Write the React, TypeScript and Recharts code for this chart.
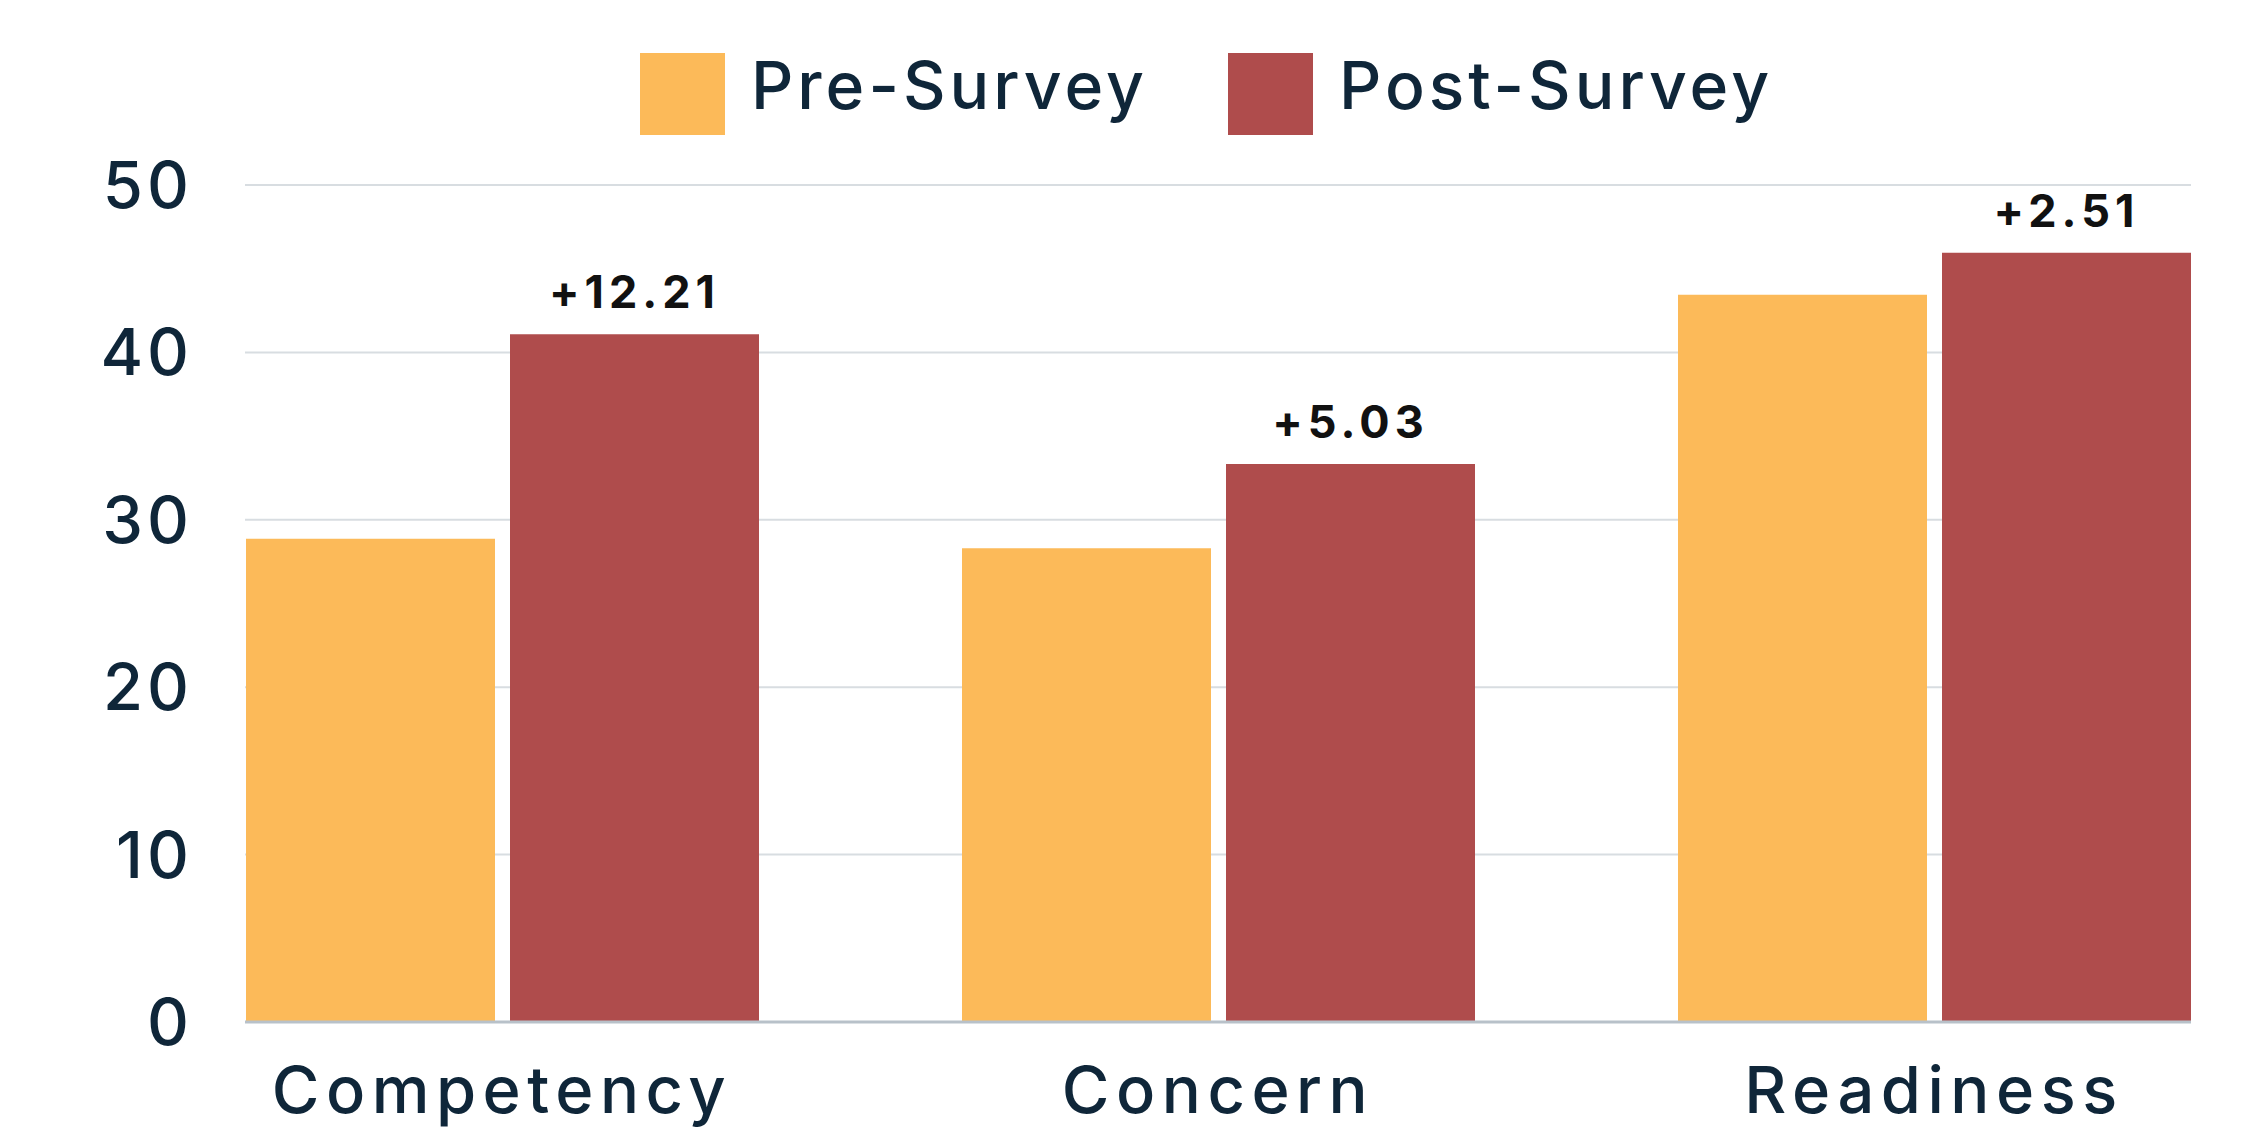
import React from 'react';
import { BarChart, Bar, XAxis, YAxis, CartesianGrid, Legend, LabelList } from 'recharts';

const categories = ['Competency', 'Concern', 'Readiness'];
const preSurvey = [28.87, 28.3, 43.45];
const postSurvey = [41.08, 33.33, 45.96];
const changeLabels = ['+12.21', '+5.03', '+2.51'];
const yTicks = [0, 10, 20, 30, 40, 50];
const seriesNames = ['Pre-Survey', 'Post-Survey'];
const seriesColors = ['#FCBA59', '#AF4C4C'];

const data = categories.map((c, i) => ({
  category: c,
  pre: preSurvey[i],
  post: postSurvey[i],
  change: changeLabels[i],
}));

const FONT = 'Inter, "Noto Sans", sans-serif';
const TEXT = '#0F2639';

const renderLegend = () => (
  <div style={{ display: 'flex', alignItems: 'center', fontFamily: FONT }}>
    {seriesNames.map((name, i) => (
      <div key={name} style={{ display: 'flex', alignItems: 'center', marginRight: i === 0 ? 80 : 0 }}>
        <div style={{ width: 85, height: 82, background: seriesColors[i], marginRight: 26 }} />
        <span
          style={{
            fontSize: 66,
            fontWeight: 500,
            color: TEXT,
            lineHeight: '82px',
            position: 'relative',
            top: -9,
            letterSpacing: 4,
            whiteSpace: 'nowrap',
          }}
        >
          {name}
        </span>
      </div>
    ))}
  </div>
);

export default function App() {
  return (
    <div style={{ position: 'absolute', left: 0, top: 0, background: '#fff' }}>
      <BarChart
        width={2245}
        height={1131}
        data={data}
        margin={{ top: 185, right: 54, bottom: 0, left: 0 }}
        barGap={15}
      >
        <CartesianGrid vertical={false} stroke="#D8DDE1" strokeWidth={2} />
        <XAxis
          dataKey="category"
          height={109}
          padding={{ left: -101, right: -101 }}
          tickLine={false}
          axisLine={{ stroke: '#B8C1C9', strokeWidth: 3 }}
          tickSize={0}
          tickMargin={45}
          interval={0}
          tick={{ fill: TEXT, fontSize: 65, fontFamily: FONT, fontWeight: 500, letterSpacing: 6.5 }}
        />
        <YAxis
          width={245}
          domain={[0, 50]}
          ticks={yTicks}
          axisLine={false}
          tickLine={false}
          tickSize={0}
          tickMargin={52}
          tick={{ fill: TEXT, fontSize: 65, fontFamily: FONT, fontWeight: 500, letterSpacing: 4 }}
        />
        <Legend
          verticalAlign="middle"
          align="center"
          layout="horizontal"
          wrapperStyle={{ top: 53, left: 640, width: 1400, height: 82 }}
          content={renderLegend}
        />
        <Bar dataKey="pre" name={seriesNames[0]} fill={seriesColors[0]} barSize={249} isAnimationActive={false} />
        <Bar dataKey="post" name={seriesNames[1]} fill={seriesColors[1]} barSize={249} isAnimationActive={false}>
          <LabelList
            dataKey="change"
            position="top"
            offset={26}
            fill="#111111"
            fontSize={45}
            fontWeight={700}
            fontFamily={FONT}
            style={{ letterSpacing: 5 }}
          />
        </Bar>
      </BarChart>
    </div>
  );
}
